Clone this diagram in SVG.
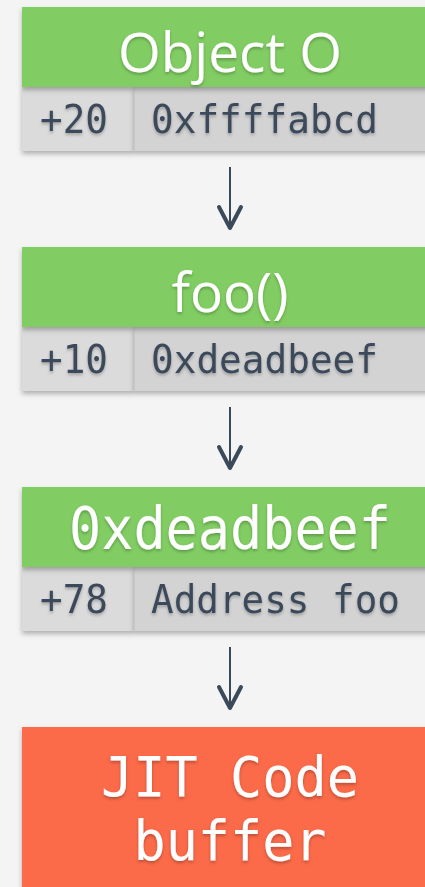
<svg xmlns="http://www.w3.org/2000/svg" width="425" height="887" viewBox="0 0 425 887">
  <defs>
    <style>
      .bg { fill: #f4f4f4; }
      .head { fill: #81cd63; }
      .jit { fill: #fb6a4a; }
      .off { fill: #dbdbdb; }
      .val { fill: #d3d3d3; }
      .sep { stroke: #c9c9c9; stroke-width: 1; }
      .title { font-family: "Open Sans", "Noto Sans", sans-serif; font-size: 55px; fill: #ffffff; text-anchor: middle; }
      .mono-big { font-family: "DejaVu Sans Mono", "Liberation Mono", monospace; font-size: 58px; fill: #ffffff; text-anchor: middle; }
      .mono-jit { font-family: "DejaVu Sans Mono", "Liberation Mono", monospace; font-size: 55px; fill: #ffffff; text-anchor: middle; }
      .mono { font-family: "DejaVu Sans Mono", "Liberation Mono", monospace; font-size: 39px; fill: #3b4a5a; }
      .link { stroke: #3b4a5a; stroke-width: 2; fill: none; }
      .tip { stroke: #3b4a5a; stroke-width: 4; fill: none; stroke-linejoin: round; stroke-linecap: round; }
    </style>
    <filter id="boxShadow" x="-10%" y="-20%" width="130%" height="160%">
      <feDropShadow dx="0" dy="3" stdDeviation="2.5" flood-color="#000" flood-opacity="0.28"/>
    </filter>
    <filter id="textShadow" x="-10%" y="-20%" width="120%" height="160%">
      <feDropShadow dx="0" dy="2" stdDeviation="1.5" flood-color="#000" flood-opacity="0.25"/>
    </filter>
    <marker id="chevron" viewBox="-26 -15 30 30" refX="0" refY="0" markerWidth="30" markerHeight="30" markerUnits="userSpaceOnUse" orient="auto" overflow="visible">
      <path class="tip" d="M-21,-11 L0,0 L-21,11"/>
    </marker>
  </defs>

  <rect class="bg" x="0" y="0" width="425" height="887"/>

  <!-- Object O: header with one offset/value row -->
  <g id="object-o">
    <rect class="off" x="22" y="87" width="112" height="64" filter="url(#boxShadow)"/>
    <rect class="val" x="134" y="87" width="304" height="64" filter="url(#boxShadow)"/>
    <line class="sep" x1="134.5" y1="87" x2="134.5" y2="151"/>
    <rect class="head" x="22" y="7" width="416" height="80" filter="url(#boxShadow)"/>
    <text class="title" x="230" y="71.5" filter="url(#textShadow)">Object O</text>
    <g filter="url(#textShadow)">
      <text class="mono" x="40" y="132.5" textLength="68" lengthAdjust="spacingAndGlyphs">+20</text>
      <text class="mono" x="151" y="132.5" textLength="227" lengthAdjust="spacingAndGlyphs">0xffffabcd</text>
    </g>
  </g>

  <!-- foo() -->
  <g id="foo">
    <rect class="off" x="22" y="327" width="112" height="64" filter="url(#boxShadow)"/>
    <rect class="val" x="134" y="327" width="304" height="64" filter="url(#boxShadow)"/>
    <line class="sep" x1="134.5" y1="327" x2="134.5" y2="391"/>
    <rect class="head" x="22" y="247" width="416" height="80" filter="url(#boxShadow)"/>
    <text class="title" x="230" y="311.5" filter="url(#textShadow)">foo()</text>
    <g filter="url(#textShadow)">
      <text class="mono" x="40" y="372.5" textLength="68" lengthAdjust="spacingAndGlyphs">+10</text>
      <text class="mono" x="151" y="372.5" textLength="227" lengthAdjust="spacingAndGlyphs">0xdeadbeef</text>
    </g>
  </g>

  <!-- 0xdeadbeef -->
  <g id="deadbeef">
    <rect class="off" x="22" y="567" width="112" height="64" filter="url(#boxShadow)"/>
    <rect class="val" x="134" y="567" width="304" height="64" filter="url(#boxShadow)"/>
    <line class="sep" x1="134.5" y1="567" x2="134.5" y2="631"/>
    <rect class="head" x="22" y="487" width="416" height="80" filter="url(#boxShadow)"/>
    <text class="mono-big" x="230" y="549" textLength="322" lengthAdjust="spacingAndGlyphs" filter="url(#textShadow)">0xdeadbeef</text>
    <g filter="url(#textShadow)">
      <text class="mono" x="40" y="612.5" textLength="68" lengthAdjust="spacingAndGlyphs">+78</text>
      <text class="mono" x="151" y="612.5" textLength="249" lengthAdjust="spacingAndGlyphs">Address foo</text>
    </g>
  </g>

  <!-- JIT code buffer -->
  <g id="jit-buffer">
    <rect class="jit" x="22" y="727" width="416" height="180" filter="url(#boxShadow)"/>
    <g filter="url(#textShadow)">
      <text class="mono-jit" x="230" y="796" textLength="258" lengthAdjust="spacingAndGlyphs">JIT Code</text>
      <text class="mono-jit" x="230" y="860" textLength="193" lengthAdjust="spacingAndGlyphs">buffer</text>
    </g>
  </g>

  <!-- pointer chain -->
  <g id="connectors">
    <line class="link" x1="230" y1="167" x2="230" y2="228" marker-end="url(#chevron)"/>
    <line class="link" x1="230" y1="407" x2="230" y2="468" marker-end="url(#chevron)"/>
    <line class="link" x1="230" y1="647" x2="230" y2="708" marker-end="url(#chevron)"/>
  </g>
</svg>
